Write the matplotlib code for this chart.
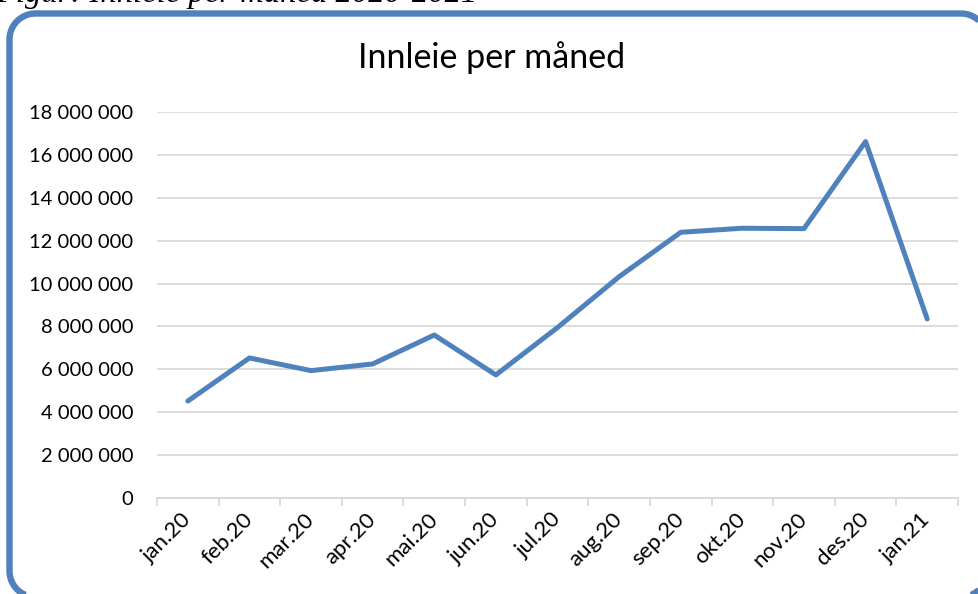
import matplotlib
matplotlib.use("Agg")
import matplotlib.pyplot as plt
from matplotlib.patches import Polygon
from matplotlib.ticker import FuncFormatter, MultipleLocator
import numpy as np

months = ["jan.20", "feb.20", "mar.20", "apr.20", "mai.20", "jun.20", "jul.20",
          "aug.20", "sep.20", "okt.20", "nov.20", "des.20", "jan.21"]
innleie = [4_520_000, 6_530_000, 5_940_000, 6_250_000, 7_600_000, 5_740_000,
           7_950_000, 10_320_000, 12_390_000, 12_580_000, 12_560_000, 16_620_000,
           8_350_000]

title = "Innleie per måned"
caption = "Figur: Innleie per måned 2020-2021"

BLUE = "#4f81bd"
GRID = "#d9d9d9"
W, H = 979, 594

plt.rcParams["font.family"] = ["Lato", "DejaVu Sans"]

fig = plt.figure(figsize=(W / 100, H / 100), dpi=100)
fig.patch.set_facecolor("white")


def rounded_rect(x0, y0, x1, y1, r, n=24):
    """Outline of a rounded rectangle as a polyline (pixel units, y down)."""
    pts = []
    corners = [(x1 - r, y0 + r, -90, 0), (x1 - r, y1 - r, 0, 90),
               (x0 + r, y1 - r, 90, 180), (x0 + r, y0 + r, 180, 270)]
    for cx, cy, a0, a1 in corners:
        t = np.radians(np.linspace(a0, a1, n))
        pts.append(np.column_stack([cx + r * np.cos(t), cy + r * np.sin(t)]))
    return np.vstack(pts)


# background layer in pixel units (origin top-left) for the rounded frame
bg = fig.add_axes([0, 0, 1, 1], zorder=-5)
bg.set_xlim(0, W)
bg.set_ylim(H, 0)
bg.axis("off")
outline = rounded_rect(9.5, 13.5, 987, 597, 26)
bg.add_patch(Polygon(outline, closed=True, facecolor="none", edgecolor=BLUE,
                     linewidth=4.6, joinstyle="round"))

# document caption above the chart
fig.text(-0.004, 1 - 2 / H, caption, fontsize=23.5, style="italic",
         family=["Liberation Serif"], ha="left", va="baseline", color="black")

left, right, top, bottom = 157, 958, 112, 498
ax = fig.add_axes([left / W, 1 - bottom / H, (right - left) / W, (bottom - top) / H])
ax.set_facecolor("none")

x = np.arange(len(months))
ax.plot(x, innleie, color=BLUE, linewidth=3.6, solid_joinstyle="round",
        solid_capstyle="round", zorder=3, clip_on=False)

ax.set_xlim(-0.5, len(months) - 0.5)
ax.set_ylim(0, 18_000_000)
ax.yaxis.set_major_locator(MultipleLocator(2_000_000))
ax.yaxis.set_major_formatter(FuncFormatter(lambda v, _: f"{int(v):,}".replace(",", " ")))
ax.grid(axis="y", color=GRID, linewidth=1.3)
ax.set_axisbelow(True)

for s in ["top", "right", "left"]:
    ax.spines[s].set_visible(False)
ax.spines["bottom"].set_color(GRID)
ax.spines["bottom"].set_linewidth(1.3)

ax.tick_params(axis="y", length=0, pad=17, labelsize=14.5, labelcolor="black")
ax.set_yticks(np.arange(0, 18_000_001, 2_000_000))

# category ticks sit on the boundaries between months
ax.set_xticks(np.arange(-0.5, len(months), 1.0))
ax.set_xticklabels([])
ax.tick_params(axis="x", which="major", length=6, width=1.3, color=GRID, direction="out")
ax.set_xticks(x, minor=True)
ax.set_xticklabels(months, minor=True, rotation=45, ha="right", va="center",
                   rotation_mode="anchor", fontsize=16)
ax.tick_params(axis="x", which="minor", length=0, pad=13)

fig.text(492 / W, 1 - 68 / H, title, fontsize=24.5, ha="center", va="baseline",
         color="black")

fig.savefig("out.png", dpi=100, facecolor="white")
